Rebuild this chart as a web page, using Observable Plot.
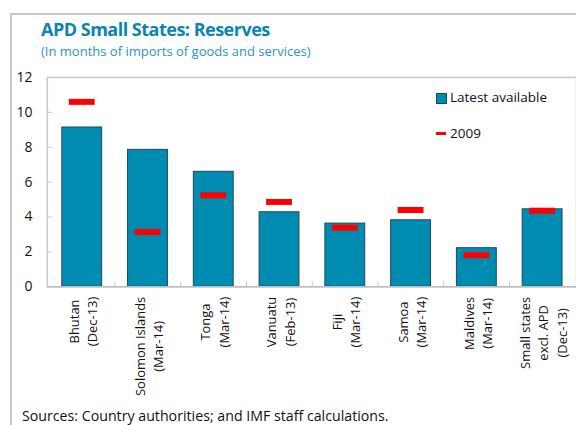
<!DOCTYPE html>
<html>
<head>
<meta charset="utf-8">
<script src="https://cdn.jsdelivr.net/npm/d3@7"></script>
<script src="https://cdn.jsdelivr.net/npm/@observablehq/plot@0.6"></script>
<style>
  html, body { margin: 0; padding: 0; background: #fff; overflow: hidden; width: 576px; height: 425px; }
  body { position: relative; font-family: "Open Sans", "Noto Sans", sans-serif; }
  #frame { position: absolute; left: 10px; top: 13px; width: 600px; height: 450px;
           border-left: 2px solid #c8c8c8; border-top: 2px solid #c8c8c8; }
  #title { position: absolute; left: 41px; top: 17px; font-size: 18px; font-weight: 700;
           color: #0a84b0; letter-spacing: -0.5px; white-space: nowrap; }
  #subtitle { position: absolute; left: 41px; top: 42px; font-size: 13px; color: #2a93c4;
              white-space: nowrap; }
  #chart { position: absolute; left: 0; top: 65px; }
  #caption { position: absolute; left: 22px; top: 406px; font-size: 14.2px; color: #111; white-space: nowrap; }
  .leg { position: absolute; font-size: 13.5px; color: #111; white-space: nowrap; }
  .sw { position: absolute; }
</style>
</head>
<body>
<div id="frame"></div>
<div id="title">APD Small States: Reserves</div>
<div id="subtitle">(In months of imports of goods and services)</div>
<div id="chart"></div>
<div class="sw" style="left:436px;top:93px;width:9px;height:9px;background:#008cb0;border:1px solid #1d4a5c;"></div>
<div class="leg" style="left:450px;top:88px;">Latest available</div>
<div class="sw" style="left:436px;top:132px;width:10px;height:3px;background:#ff0000;"></div>
<div class="leg" style="left:450px;top:124px;">2009</div>
<div id="caption">Sources: Country authorities; and IMF staff calculations.</div>
<script>
const categories = ["Bhutan\n(Dec-13)", "Solomon Islands\n(Mar-14)", "Tonga\n(Mar-14)", "Vanuatu\n(Feb-13)",
                    "Fiji\n(Mar-14)", "Samoa\n(Mar-14)", "Maldives\n(Mar-14)", "Small states\nexcl. APD\n(Dec-13)"];
const latest = [9.13, 7.85, 6.59, 4.27, 3.62, 3.81, 2.21, 4.44];
const y2009 = [10.6, 3.14, 5.24, 4.86, 3.39, 4.40, 1.81, 4.36];
const yTicks = [0, 2, 4, 6, 8, 10, 12];

const data = categories.map((c, i) => ({cat: c, latest: latest[i], y2009: y2009[i]}));

const width = 578, height = 335;
const mL = 47, mR = 0, mT = 12, mB = 113;
const plotW = width - mL - mR;
const step = plotW / categories.length;
const fontFamily = "'Open Sans', 'Noto Sans', sans-serif";
const labelSize = 13;

const ctx = document.createElement("canvas").getContext("2d");
ctx.font = `${labelSize}px ${fontFamily}`;
const blockLen = c => Math.max(...c.split("\n").map(s => ctx.measureText(s).width));

const labelMarks = categories.map(c => Plot.text([c], {
  x: d => d, text: d => d, frameAnchor: "bottom", rotate: -90,
  textAnchor: "middle", lineAnchor: "middle", lineHeight: 1.42,
  fontSize: labelSize, fill: "#111",
  dy: 10 + blockLen(c) / 2
}));

const chart = Plot.plot({
  width, height,
  marginLeft: mL, marginRight: mR, marginTop: mT, marginBottom: mB,
  style: {fontFamily, background: "transparent", overflow: "visible"},
  x: {domain: categories, paddingInner: 0.4, paddingOuter: 0.2, axis: null},
  y: {domain: [0, 12], axis: null},
  marks: [
    Plot.frame({stroke: "#c8c8c8", strokeWidth: 1.5}),
    Plot.axisY({ticks: yTicks, tickSize: 0, tickPadding: 15, fontSize: 14, fill: "#111", tickFormat: d3.format("d")}),
    Plot.tickY(yTicks.slice(1, -1), {y: d => d, insetRight: plotW - 5, stroke: "#c8c8c8"}),
    Plot.ruleX(categories.slice(1), {x: d => d, y1: 0, y2: 0.3, dx: -step / 2, stroke: "#c8c8c8"}),
    Plot.barY(data, {x: "cat", y: "latest", fill: "#008cb0", stroke: "#1d4a5c", strokeWidth: 1}),
    Plot.tickY(data, {x: "cat", y: "y2009", stroke: "#ff0000", strokeWidth: 6, insetLeft: 7, insetRight: 7}),
    Plot.ruleY([0], {stroke: "#bdbdbd", strokeWidth: 1.5}),
    ...labelMarks
  ]
});
document.getElementById("chart").appendChild(chart);
</script>
</body>
</html>
